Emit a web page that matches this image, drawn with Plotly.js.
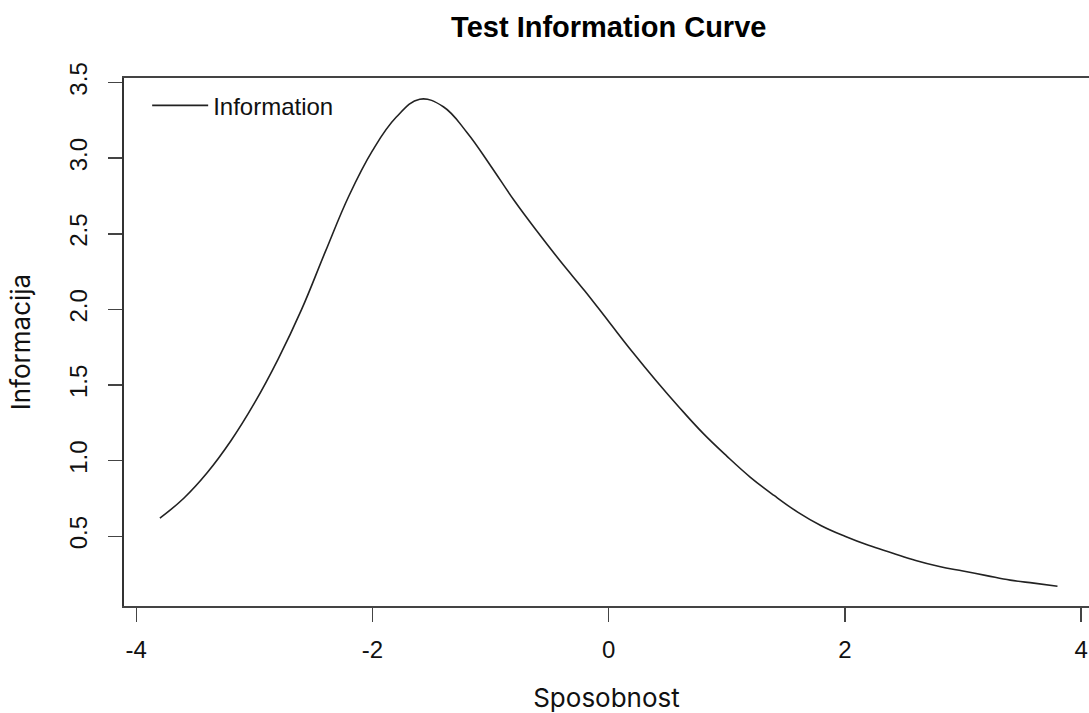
<!DOCTYPE html>
<html>
<head>
<meta charset="utf-8">
<script src="https://cdn.plot.ly/plotly-3.0.1.min.js"></script>
<style>html,body{margin:0;padding:0;background:#fff;}#chart{width:1089px;height:713px;}</style>
</head>
<body>
<div id="chart"></div>
<script>
var theta = [-3.8,-3.6,-3.4,-3.2,-3.0,-2.8,-2.6,-2.4,-2.2,-2.0,-1.8,-1.6,-1.4,-1.2,-1.0,-0.8,-0.6,-0.4,-0.2,0.0,0.2,0.4,0.6,0.8,1.0,1.2,1.4,1.6,1.8,2.0,2.2,2.4,2.6,2.8,3.0,3.2,3.4,3.6,3.8];
var information = [0.62,0.75,0.92,1.13,1.38,1.67,2.00,2.38,2.75,3.05,3.27,3.39,3.34,3.17,2.95,2.72,2.51,2.31,2.12,1.92,1.72,1.53,1.35,1.18,1.03,0.89,0.77,0.66,0.57,0.50,0.44,0.39,0.34,0.30,0.27,0.24,0.21,0.19,0.17];
var xTicks = [-4,-2,0,2,4];
var xTickText = ["-4","-2","0","2","4"];
var yTicks = [0.5,1.0,1.5,2.0,2.5,3.0,3.5];
var yTickText = ["0.5","1.0","1.5","2.0","2.5","3.0","3.5"];

var trace = {
  x: theta, y: information, type: 'scatter', mode: 'lines', name: 'Information',
  line: {color: '#222', width: 1.6, shape: 'spline', smoothing: 1.15}
};

var axisFont = {family: 'Liberation Sans, Arial, sans-serif', size: 24, color: '#111'};
var layout = {
  width: 1089, height: 713,
  paper_bgcolor: '#fff', plot_bgcolor: '#fff',
  margin: {l: 124, r: 0, t: 78, b: 107, pad: 0},
  title: {text: '<b>Test Information Curve</b>', x: 0.559, xanchor: 'center', xref: 'container',
          y: 1 - 27/713, yanchor: 'middle', yref: 'container',
          font: {family: 'Liberation Sans, Arial, sans-serif', size: 29, color: '#000'}},
  xaxis: {range: [-4.104, 4.067], tickvals: xTicks, ticktext: xTickText, ticks: 'outside', ticklen: 14,
          tickwidth: 1.5, tickcolor: '#444', showline: true, linecolor: '#444', linewidth: 1.6, mirror: true,
          showgrid: false, zeroline: false, tickfont: axisFont, ticklabelstandoff: 8,
          title: {text: 'Sposobnost', font: {family: 'Inter, sans-serif', size: 26, color: '#111'}, standoff: 30}},
  yaxis: {range: [0.039, 3.53], tickvals: yTicks, ticktext: yTickText, ticks: 'outside', ticklen: 14,
          tickwidth: 1.5, tickcolor: '#444', showline: true, linecolor: '#333', linewidth: 1.6,
          showgrid: false, zeroline: false, tickfont: axisFont, tickangle: -90, ticklabelstandoff: 12,
          title: {text: 'Informacija', font: {family: 'Inter, sans-serif', size: 26, color: '#111'}, standoff: 26}},
  showlegend: true,
  legend: {x: 0.024, y: 0.99, xanchor: 'left', yanchor: 'top', bgcolor: 'rgba(0,0,0,0)', borderwidth: 0,
           itemwidth: 56, font: {family: 'Liberation Sans, Arial, sans-serif', size: 24, color: '#111'}}
};

Plotly.newPlot('chart', [trace], layout, {displayModeBar: false, staticPlot: true});
</script>
</body>
</html>
